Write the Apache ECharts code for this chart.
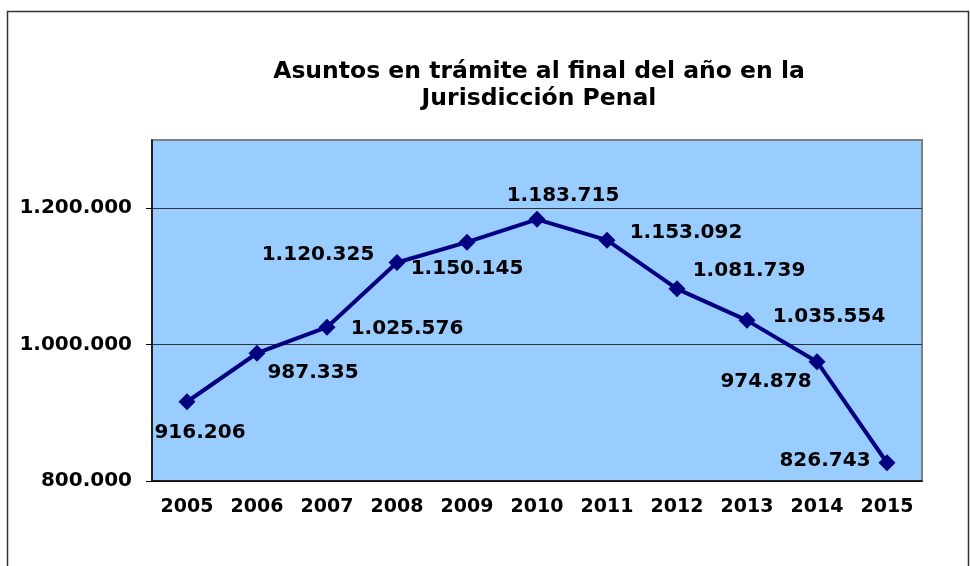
<!DOCTYPE html>
<html>
<head>
<meta charset="utf-8">
<script src="https://cdn.jsdelivr.net/npm/echarts@6/dist/echarts.min.js"></script>
<style>
html, body { margin: 0; padding: 0; background: #fff; }
#chart { width: 970px; height: 566px; }
</style>
</head>
<body>
<div id="chart"></div>
<script>
var years = ['2005', '2006', '2007', '2008', '2009', '2010', '2011', '2012', '2013', '2014', '2015'];
var asuntos = [916206, 987335, 1025576, 1120325, 1150145, 1183715, 1153092, 1081739, 1035554, 974878, 826743];
// desplazamiento de cada etiqueta respecto al punto
var labelOffsets = [[13, 31], [56, 20], [80, 2], [-79, -8], [0, 27], [26, -24], [79, -7], [72, -18], [82, -4], [-51, 20], [-62, -2]];
var yTicks = [800000, 1000000, 1200000];

function puntos(n) {
	return String(n).replace(/\B(?=(\d{3})+(?!\d))/g, '.');
}

var font = 'DejaVu Sans';
var seriesData = [];
for (var i = 0; i < asuntos.length; i++) {
	seriesData.push({
		value: asuntos[i],
		label: { offset: labelOffsets[i] }
	});
}

var myChart = echarts.init(document.getElementById('chart'));
myChart.setOption({
	animation: false,
	backgroundColor: '#fff',
	title: {
		text: 'Asuntos en trámite al final del año en la\nJurisdicción Penal',
		left: 534,
		top: 53,
		textAlign: 'center',
		textStyle: { fontFamily: font, fontWeight: 'bold', fontSize: 23.5, lineHeight: 27, color: '#000' }
	},
	graphic: [{
		type: 'rect',
		shape: { x: 7.5, y: 11.5, width: 961, height: 600 },
		style: { fill: 'none', stroke: '#333', lineWidth: 1.5 },
		z: -1
	}],
	grid: {
		left: 152, top: 140, right: 48, bottom: 85,
		show: true,
		backgroundColor: '#99CCFF',
		borderColor: '#808080',
		borderWidth: 2
	},
	xAxis: {
		type: 'category',
		data: years,
		boundaryGap: true,
		axisLine: { lineStyle: { color: '#000', width: 1.5 } },
		axisTick: { length: 6, interval: 0, lineStyle: { color: '#000' } },
		axisLabel: { interval: 0, fontFamily: font, fontWeight: 'bold', fontSize: 19, color: '#000', margin: 17 }
	},
	yAxis: {
		type: 'value',
		min: 800000,
		max: 1300000,
		interval: 100000,
		axisLine: { show: true, lineStyle: { color: '#000', width: 1.5 } },
		axisTick: { show: true, length: 6, lineStyle: { color: '#000' }, customValues: yTicks },
		axisLabel: {
			fontFamily: font, fontWeight: 'bold', fontSize: 20, color: '#000', margin: 20,
			customValues: yTicks,
			formatter: function(v) { return puntos(v); }
		},
		splitLine: { show: true, lineStyle: { color: '#333', width: 1 } }
	},
	series: [{
		type: 'line',
		data: seriesData,
		symbol: 'diamond',
		symbolSize: 17,
		itemStyle: { color: '#000080' },
		lineStyle: { color: '#000080', width: 4 },
		label: {
			show: true,
			position: 'inside',
			fontFamily: font, fontWeight: 'bold', fontSize: 20, color: '#000',
			formatter: function(p) { return puntos(p.value); }
		}
	}]
});
</script>
</body>
</html>
